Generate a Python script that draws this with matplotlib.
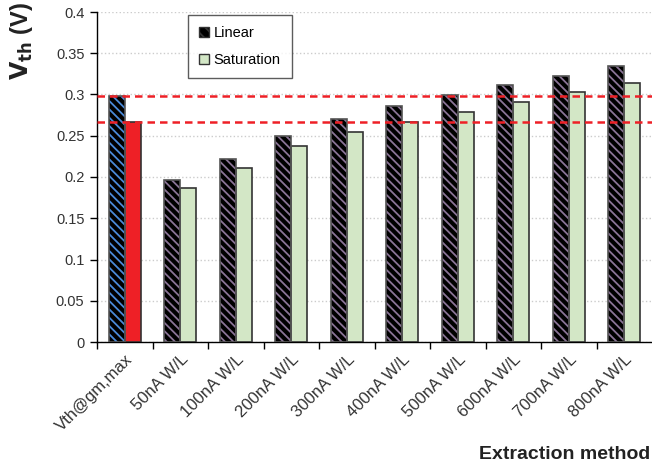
import matplotlib
matplotlib.use("Agg")
import matplotlib.pyplot as plt
import matplotlib.transforms as mtransforms
import numpy as np

plt.rcParams['font.family'] = ['Liberation Sans', 'DejaVu Sans']

methods = ['Vth@gm,max', '50nA W/L', '100nA W/L', '200nA W/L', '300nA W/L',
           '400nA W/L', '500nA W/L', '600nA W/L', '700nA W/L', '800nA W/L']
vth_lin = [0.298, 0.196, 0.222, 0.250, 0.270, 0.286, 0.300, 0.312, 0.323, 0.334]
vth_sat = [0.267, 0.187, 0.2105, 0.2375, 0.254, 0.267, 0.279, 0.291, 0.303, 0.314]

fig = plt.figure(figsize=(6.52, 4.70), dpi=100)
ax = fig.add_axes([97 / 652, 128 / 470, 555 / 652, 330 / 470])

x = np.arange(len(methods))
w = 0.29

# linear: black with diagonal colored stripes
plt.rcParams['hatch.linewidth'] = 1.3
lin_bars = ax.bar(x - w / 2, vth_lin, w, color='black', edgecolor='#8a7496',
                  hatch='\\\\\\\\', linewidth=0, zorder=3)
lin_bars[0].set_edgecolor('#4a8ad8')
ax.bar(x - w / 2, vth_lin, w, color='none', edgecolor='#555555',
       linewidth=1.2, zorder=4)

sat_colors = ['#ee2026'] + ['#d3e7c6'] * (len(methods) - 1)
ax.bar(x + w / 2, vth_sat, w, color=sat_colors, edgecolor='#333333',
       linewidth=1.2, zorder=3)

# reference levels at the gm,max extraction
ax.axhline(vth_lin[0], color='#ee2026', ls=(0, (3, 2)), lw=1.8, zorder=5)
ax.axhline(vth_sat[0], color='#ee2026', ls=(0, (3, 2)), lw=1.8, zorder=5)

ax.set_xlim(-0.5, len(methods) - 0.5)
ax.set_ylim(0, 0.4)
ax.set_yticks(np.arange(0, 0.401, 0.05))
ax.set_yticklabels(['0', '0.05', '0.1', '0.15', '0.2', '0.25', '0.3', '0.35', '0.4'])
ax.yaxis.grid(True, color='#cccccc', ls=':', lw=1, zorder=0)
ax.set_axisbelow(True)

ax.set_xticks(x - 0.5, minor=False)
ax.set_xticklabels([])
ax.set_xticks(x, minor=True)
ax.set_xticklabels(methods, minor=True, rotation=45, ha='right',
                   rotation_mode='anchor', fontsize=12, color='#333333')
shift = mtransforms.ScaledTranslation(5 / 100, 0, fig.dpi_scale_trans)
for lbl in ax.get_xticklabels(minor=True):
    lbl.set_transform(lbl.get_transform() + shift)
ax.tick_params(axis='x', which='minor', length=0, pad=7)
ax.tick_params(axis='x', which='major', length=5, width=1, direction='out')
ax.tick_params(axis='y', length=5, width=1, direction='out', labelsize=10.5,
               labelcolor='#333333', pad=4)

for s in ['top', 'right']:
    ax.spines[s].set_visible(False)
ax.spines['left'].set_linewidth(1)
ax.spines['bottom'].set_linewidth(1)

handles = [plt.Rectangle((0, 0), 1, 1, facecolor='black', edgecolor='#333333',
                         hatch='\\\\\\'),
           plt.Rectangle((0, 0), 1, 1, facecolor='#d3e7c6', edgecolor='#333333')]
leg = ax.legend(handles, ['Linear', 'Saturation'], loc='upper left',
                bbox_to_anchor=(84 / 555, 1.012), fontsize=10.5, frameon=True,
                fancybox=False, edgecolor='#333333', handlelength=0.7,
                handleheight=0.7, handletextpad=0.3, labelspacing=0.9,
                borderpad=0.75)
leg.get_frame().set_linewidth(1)

fig.text(0.997, 0.032, 'Extraction method', ha='right', va='center',
         fontsize=14, fontweight='bold', color='#222222')
fig.text(0.033, 0.995, r'$\mathbf{V_{th}}$ (V)', rotation=90, ha='center',
         va='top', fontsize=17, fontweight='bold', color='#222222')

fig.savefig('out.png', dpi=100)
